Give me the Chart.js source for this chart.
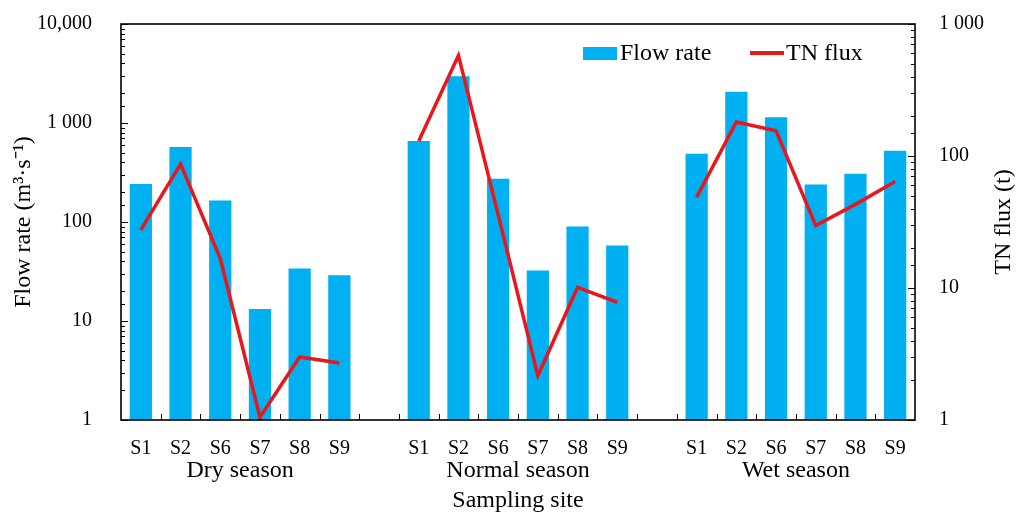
<!DOCTYPE html>
<html>
<head>
<meta charset="utf-8">
<script src="https://cdn.jsdelivr.net/npm/chart.js@4"></script>
<style>
    html, body { margin: 0; background: #fff; }
    #wrap { width: 1016px; height: 513px; }
</style>
</head>
<body>
<div id="wrap"><canvas id="chart"></canvas></div>
<script>
const sites = ['S1', 'S2', 'S6', 'S7', 'S8', 'S9'];
const seasons = ['Dry season', 'Normal season', 'Wet season'];

// flow rate, m3/s
const flowDry = [242, 572, 165, 13.2, 34, 29];
const flowNormal = [658, 2960, 273, 32.3, 90, 58];
const flowWet = [489, 2070, 1140, 239, 307, 525];

// TN flux, t
const tnDry = [27.6, 87, 16.8, 1.05, 3.0, 2.7];
const tnNormal = [130, 578, 36, 2.17, 10.1, 7.8];
const tnWet = [48.8, 181, 155, 29.7, 43, 64];

const leftTicks = [1, 10, 100, 1000, 10000];
const leftTickLabels = ['1', '10', '100', '1 000', '10,000'];
const rightTicks = [1, 10, 100, 1000];
const rightTickLabels = ['1', '10', '100', '1 000'];

const BLUE = '#00b0f0';
const RED = '#e8171c';
const SERIF = '"Liberation Serif", "Times New Roman", serif';

// one empty slot between seasons keeps the groups apart and breaks the line
const labels = [...sites, '', ...sites, '', ...sites];
const flowData = [...flowDry, null, ...flowNormal, null, ...flowWet];
const tnData = [...tnDry, null, ...tnNormal, null, ...tnWet];

Chart.defaults.font.family = SERIF;
Chart.defaults.font.size = 20;
Chart.defaults.color = '#000';

const decor = {
    id: 'decor',
    afterDraw(chart) {
        const { ctx, chartArea: a, scales } = chart;
        ctx.save();

        // inward ticks on both value axes
        ctx.strokeStyle = '#000';
        ctx.lineWidth = 1;
        const yl = scales.y, yr = scales.y1;
        yl.ticks.forEach(t => {
            const p = Math.round(yl.getPixelForValue(t.value)) + 0.5;
            const len = leftTicks.includes(t.value) ? 7 : 4;
            ctx.beginPath(); ctx.moveTo(a.left, p); ctx.lineTo(a.left + len, p); ctx.stroke();
        });
        yr.ticks.forEach(t => {
            const p = Math.round(yr.getPixelForValue(t.value)) + 0.5;
            const len = rightTicks.includes(t.value) ? 7 : 4;
            ctx.beginPath(); ctx.moveTo(a.right, p); ctx.lineTo(a.right - len, p); ctx.stroke();
        });

        // category boundary ticks on the x axis
        const x = scales.x;
        for (let i = 1; i < labels.length; i++) {
            const p = Math.round((x.getPixelForValue(i - 1) + x.getPixelForValue(i)) / 2) + 0.5;
            ctx.beginPath(); ctx.moveTo(p, a.bottom); ctx.lineTo(p, a.bottom - 6); ctx.stroke();
        }

        // frame
        ctx.lineWidth = 1.6;
        ctx.strokeRect(a.left, a.top, a.right - a.left, a.bottom - a.top);

        // season names under the site labels
        ctx.fillStyle = '#000';
        ctx.font = '24px ' + SERIF;
        ctx.textAlign = 'center';
        ctx.textBaseline = 'middle';
        seasons.forEach((s, g) => {
            const c = (x.getPixelForValue(g * 7) + x.getPixelForValue(g * 7 + 5)) / 2;
            ctx.fillText(s, c, 471);
        });

        // right axis title, reading bottom to top
        ctx.save();
        ctx.translate(1004, (a.top + a.bottom) / 2);
        ctx.rotate(-Math.PI / 2);
        ctx.fillText('TN flux (t)', 0, 0);
        ctx.restore();

        // legend inside the plot
        ctx.textAlign = 'left';
        ctx.fillStyle = BLUE;
        ctx.fillRect(583, 47, 34, 13);
        ctx.fillStyle = '#000';
        ctx.fillText(chart.data.datasets[1].label, 620, 54);
        ctx.strokeStyle = RED;
        ctx.lineWidth = 4;
        ctx.beginPath(); ctx.moveTo(750, 53); ctx.lineTo(784, 53); ctx.stroke();
        ctx.fillText(chart.data.datasets[0].label, 786, 54);

        ctx.restore();
    }
};

const fitY = w => s => {
    s.width = w;
    s.paddingTop = 0;
    s.paddingBottom = 0;
};

new Chart(document.getElementById('chart'), {
    type: 'bar',
    data: {
        labels: labels,
        datasets: [{
            type: 'line',
            label: 'TN flux',
            data: tnData,
            yAxisID: 'y1',
            borderColor: RED,
            borderWidth: 3.5,
            pointRadius: 0,
            tension: 0,
            spanGaps: false,
            order: 0
        }, {
            label: 'Flow rate',
            data: flowData,
            yAxisID: 'y',
            backgroundColor: BLUE,
            categoryPercentage: 1,
            barPercentage: 0.56,
            order: 1
        }]
    },
    plugins: [decor],
    options: {
        responsive: true,
        maintainAspectRatio: false,
        animation: false,
        layout: { padding: { top: 24, left: 10, right: 0, bottom: 0 } },
        plugins: {
            legend: { display: false },
            tooltip: { enabled: false }
        },
        scales: {
            x: {
                grid: { display: false },
                border: { display: false },
                ticks: { autoSkip: false, maxRotation: 0, padding: 9 },
                title: {
                    display: true, text: 'Sampling site',
                    font: { size: 24, lineHeight: 1 },
                    padding: { top: 0, bottom: 0 }
                },
                afterFit: s => { s.height = 93; s.paddingLeft = 0; s.paddingRight = 0; }
            },
            y: {
                type: 'logarithmic',
                position: 'left',
                min: 1,
                max: 10000,
                grid: { display: false },
                border: { display: false },
                ticks: {
                    autoSkip: false,
                    padding: 21,
                    callback: v => {
                        const i = leftTicks.indexOf(v);
                        return i >= 0 ? leftTickLabels[i] : '';
                    }
                },
                title: {
                    display: true, text: 'Flow rate (m³·s⁻¹)',
                    font: { size: 24, lineHeight: 1 },
                    padding: { top: 2, bottom: 0 }
                },
                afterFit: fitY(111)
            },
            y1: {
                type: 'logarithmic',
                position: 'right',
                min: 1,
                max: 1000,
                grid: { display: false },
                border: { display: false },
                ticks: {
                    autoSkip: false,
                    padding: 16,
                    callback: v => {
                        const i = rightTicks.indexOf(v);
                        return i >= 0 ? rightTickLabels[i] : '';
                    }
                },
                afterFit: fitY(101)
            }
        }
    }
});
</script>
</body>
</html>
